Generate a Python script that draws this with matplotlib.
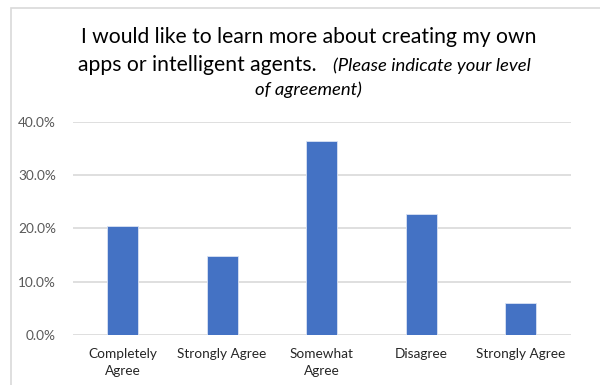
import matplotlib
matplotlib.use("Agg")
from matplotlib import pyplot as plt
from matplotlib.patches import Rectangle
from matplotlib.ticker import PercentFormatter

categories = ["Completely\nAgree", "Strongly Agree", "Somewhat\nAgree", "Disagree", "Strongly Agree"]
values = [20.5, 14.8, 36.3, 22.6, 6.0]
yticks = [0, 10, 20, 30, 40]

W, H = 600, 385
font = ["Lato", "DejaVu Sans"]

fig = plt.figure(figsize=(W / 100, H / 100), dpi=100)
fig.patch.set_facecolor("white")

# chart border (cropped on right/bottom)
fig.patches.append(Rectangle((11 / W, -0.05), 1.2, 1 - 8 / H + 0.05,
                             transform=fig.transFigure, fill=False,
                             edgecolor="#d9d9d9", linewidth=1.2))

ax = fig.add_axes([72.7 / W, 1 - 335 / H, (570.7 - 72.7) / W, (335 - 121.7) / H])
x = range(len(categories))
ax.bar(x, values, width=0.31, color="#4472c4", edgecolor="#dae3f3", linewidth=0.6, zorder=3)
ax.set_xlim(-0.5, len(categories) - 0.5)
ax.set_ylim(0, 40)
ax.set_yticks(yticks)
ax.yaxis.set_major_formatter(PercentFormatter(decimals=1))
ax.set_xticks(list(x))
ax.set_xticklabels(categories, fontfamily=font, fontsize=9.8, color="#262626", linespacing=1.55)
for t in ax.get_yticklabels():
    t.set_fontfamily(font)
    t.set_fontsize(9.8)
    t.set_color("#595959")
ax.grid(axis="y", color="#d9d9d9", linewidth=1.2, zorder=0)
ax.tick_params(length=0, pad=9)
ax.tick_params(axis="y", pad=12)
for s in ax.spines.values():
    s.set_visible(False)

# title
fig.text(309 / W, 1 - 43 / H, "I would like to learn more about creating my own",
         ha="center", va="baseline", fontsize=15.2, family=font, color="#000000")
fig.text(317 / W, 1 - 71 / H, "apps or intelligent agents.",
         ha="right", va="baseline", fontsize=15.2, family=font, color="#000000")
fig.text(333 / W, 1 - 71 / H, "(Please indicate your level",
         ha="left", va="baseline", fontsize=13.3, family=font, style="italic", color="#000000")
fig.text(308 / W, 1 - 95 / H, "of agreement)",
         ha="center", va="baseline", fontsize=13.3, family=font, style="italic", color="#000000")

plt.savefig("out.png", dpi=100)
